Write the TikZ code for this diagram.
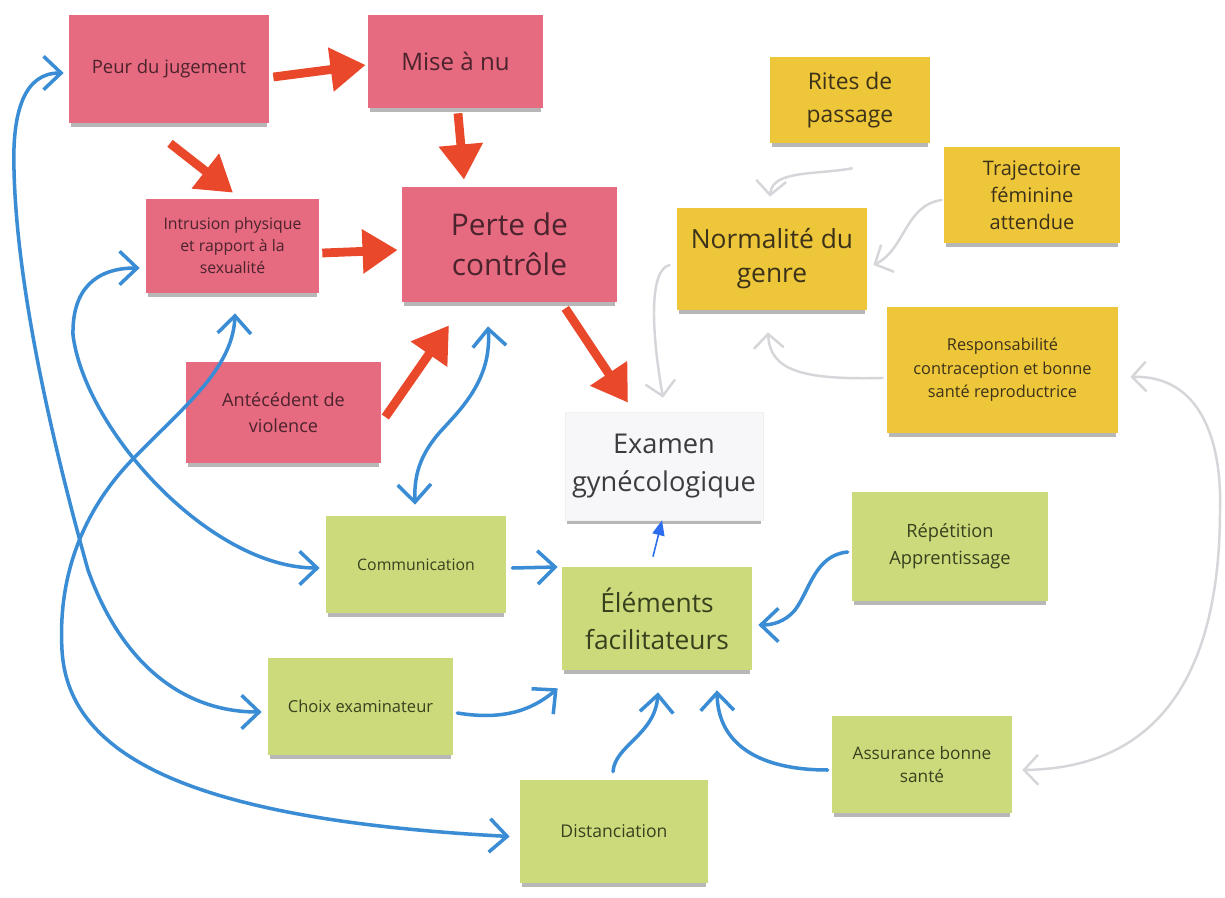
\documentclass[tikz,border=0pt]{standalone}
\usepackage{fontspec}
\setmainfont{Open Sans}
\usetikzlibrary{arrows.meta,calc,shadows}
\definecolor{pinkN}{RGB}{230,106,128}
\definecolor{yellowN}{RGB}{238,198,58}
\definecolor{greenN}{RGB}{205,218,124}
\definecolor{whiteN}{RGB}{247,247,249}
\definecolor{redA}{RGB}{233,72,42}
\definecolor{blueA}{RGB}{58,141,212}
\definecolor{blueB}{RGB}{45,110,240}
\definecolor{grayA}{RGB}{214,214,218}
\definecolor{txtP}{RGB}{75,35,45}
\definecolor{txtY}{RGB}{60,50,25}
\definecolor{txtG}{RGB}{55,65,30}
\definecolor{txtW}{RGB}{60,60,62}
\newcommand\fs[2]{\fontsize{#1}{#2}\selectfont}
\tikzset{
  note/.style={rectangle, inner sep=0pt, align=center,
    drop shadow={shadow xshift=0pt, shadow yshift=-3pt, shadow scale=0.98, opacity=0.4, fill=black!70}},
  pinknote/.style={note, fill=pinkN, text=txtP},
  yellownote/.style={note, fill=yellowN, text=txtY},
  greennote/.style={note, fill=greenN, text=txtG},
  whitenote/.style={note, fill=whiteN, draw=black!6, text=txtW},
  redarr/.style={draw=redA, line width=5pt, -{Triangle[length=20pt,width=24pt]}},
  bluearr/.style={draw=blueA, line width=2pt, line cap=round, -{Straight Barb[length=10pt,width=19pt]}},
  bluedbl/.style={draw=blueA, line width=2pt, line cap=round,
    {Straight Barb[length=10pt,width=19pt]}-{Straight Barb[length=10pt,width=19pt]}},
  thinblue/.style={draw=blueB, line width=0.9pt, -{Triangle[length=8.5pt,width=7pt]}},
  grayarr/.style={draw=grayA, line width=1.4pt, line cap=round, -{Straight Barb[length=8pt,width=17pt]}},
  graydbl/.style={draw=grayA, line width=1.4pt, line cap=round,
    {Straight Barb[length=8pt,width=17pt]}-{Straight Barb[length=8pt,width=17pt]}},
}
\begin{document}
\begin{tikzpicture}[x=0.02cm, y=-0.02cm]
\fill[white] (0,0) rectangle (1225,898);
\useasboundingbox (0,0) rectangle (1225,898);

% pink notes
\node[pinknote, minimum width=4cm, minimum height=2.16cm, font=\fs{10.5}{13}] (peur) at (169,69) {Peur du jugement};
\node[pinknote, minimum width=3.5cm, minimum height=1.86cm, font=\fs{13.7}{17}] (mise) at (455.5,61.5) {Mise à nu};
\node[pinknote, minimum width=3.46cm, minimum height=1.88cm, font=\fs{9}{12.5}] (intr) at (232.5,246) {Intrusion physique\\et rapport à la\\sexualité};
\node[pinknote, minimum width=4.3cm, minimum height=2.3cm, font=\fs{17}{22.7}] (perte) at (509.5,244.5) {Perte de\\contrôle};
\node[pinknote, minimum width=3.9cm, minimum height=2.02cm, font=\fs{10.3}{14.7}] (ante) at (283.5,412.5) {Antécédent de\\violence};

% white note
\node[whitenote, minimum width=3.96cm, minimum height=2.16cm, font=\fs{15.5}{21.5}] (exam) at (664,466) {Examen\\gynécologique};

% yellow notes
\node[yellownote, minimum width=3.2cm, minimum height=1.72cm, font=\fs{13}{18.7}] (rites) at (850,100) {Rites de\\passage};
\node[yellownote, minimum width=3.52cm, minimum height=1.92cm, font=\fs{11.4}{15.3}] (traj) at (1032,195) {Trajectoire\\féminine\\attendue};
\node[yellownote, minimum width=3.8cm, minimum height=2.04cm, font=\fs{15}{19.3}] (norm) at (772,259) {Normalité du\\genre};
\node[yellownote, minimum width=4.62cm, minimum height=2.52cm, font=\fs{9.3}{13.4}] (resp) at (1002.5,370) {Responsabilité\\contraception et bonne\\santé reproductrice};

% green notes
\node[greennote, minimum width=3.6cm, minimum height=1.94cm, font=\fs{9}{12}] (comm) at (416,564.5) {Communication};
\node[greennote, minimum width=3.8cm, minimum height=2.06cm, font=\fs{15}{21}] (elem) at (657,618.5) {Éléments\\facilitateurs};
\node[greennote, minimum width=3.7cm, minimum height=1.94cm, font=\fs{9.4}{12}] (choix) at (360.5,706.5) {Choix examinateur};
\node[greennote, minimum width=3.76cm, minimum height=2.06cm, font=\fs{10}{13}] (dist) at (614,831.5) {Distanciation};
\node[greennote, minimum width=3.92cm, minimum height=2.18cm, font=\fs{10.4}{15.3}] (rep) at (950,546.5) {Répétition\\Apprentissage};
\node[greennote, minimum width=3.6cm, minimum height=1.94cm, font=\fs{9.8}{13}] (assur) at (922,764.5) {Assurance bonne\\santé};

% red arrows
\draw[redarr] ($(peur.east)+(4,8)$) -- ($(mise.west)+(-2,3.5)$);
\draw[redarr] ($(mise.south)+(2.5,5)$) -- ($(perte.north)+(-45.5,-7)$);
\draw[redarr] ($(peur.south)+(1,20)$) -- ($(intr.north)+(0.5,-6)$);
\draw[redarr] ($(intr.east)+(3,7)$) -- ($(perte.west)+(-4,5.5)$);
\draw[redarr] ($(ante.east)+(4,4.5)$) -- ($(perte.south)+(-60.5,23)$);
\draw[redarr] ($(perte.south east)+(-52,6)$) -- ($(exam.north)+(-36,-9)$);

% gray arrows
\draw[grayarr] ($(rites.south)+(2,25)$) .. controls (815,175) and (772,170) .. ($(norm.north)+(-2,-11)$);
\draw[grayarr] ($(traj.west)+(-2,5)$) .. controls (905,205) and (905,250) .. ($(norm.east)+(6,6)$);
\draw[grayarr] ($(resp.west)+(-4,8)$) .. controls (800,380) and (770,370) .. ($(norm.south)+(-4,22)$);
\draw[grayarr] ($(norm.west)+(-7,6)$) .. controls (648,270) and (652,335) .. ($(exam.north)+(-1,-14)$);
\draw[graydbl] ($(resp.east)+(12,7)$) .. controls (1200,375) and (1222,440) .. (1220,510)
   .. controls (1220,650) and (1175,768) .. ($(assur.east)+(10,5.5)$);

% blue arrows
\draw[bluedbl] ($(peur.west)+(-5,4)$) .. controls (25,73) and (12,110) .. (14,170)
   .. controls (17,300) and (60,470) .. (88,570)
   .. controls (120,660) and (180,712) .. ($(choix.west)+(-6,5.5)$);
\draw[bluedbl] ($(intr.west)+(-6,22)$) .. controls (95,268) and (72,290) .. (73,335)
   .. controls (85,430) and (210,568) .. ($(comm.west)+(-6,3.5)$);
\draw[bluedbl] ($(intr.south)+(2.5,20)$) .. controls (233,370) and (180,410) .. (130,462)
   .. controls (80,515) and (58,580) .. (62,650)
   .. controls (68,760) and (200,820) .. ($(dist.west)+(-10,5)$);
\draw[bluedbl] ($(perte.south)+(-21.5,24)$) .. controls (492,380) and (460,410) .. (440,432)
   .. controls (420,455) and (414,475) .. ($(comm.north)+(-1,-11)$);
\draw[bluearr] ($(comm.east)+(6,3.5)$) -- ($(elem.west)+(-4,-51.5)$);
\draw[bluearr] ($(choix.east)+(4,6.5)$) .. controls (500,720) and (530,712) .. ($(elem.south west)+(-4,18)$);
\draw[bluearr] ($(dist.north)+(-1,-8)$) .. controls (615,745) and (655,735) .. ($(elem.south)+(1,22)$);
\draw[bluearr] ($(assur.west)+(-4,5.5)$) .. controls (760,770) and (718,745) .. ($(elem.south)+(60,20)$);
\draw[bluearr] ($(rep.west)+(-4,5.5)$) .. controls (815,555) and (810,590) .. (795,610)
   .. controls (785,622) and (772,625) .. ($(elem.east)+(6,6.5)$);
\draw[thinblue] ($(elem.north)+(-4,-10)$) -- ($(exam.south)+(-2,0)$);
\end{tikzpicture}
\end{document}
